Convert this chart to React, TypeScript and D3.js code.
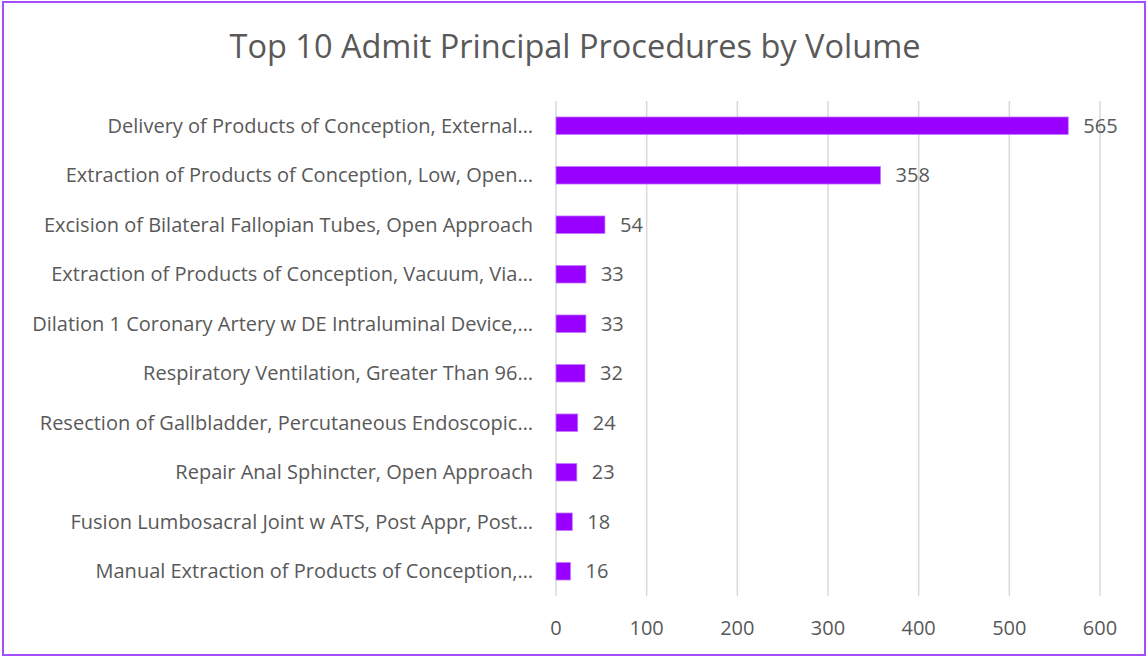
import * as d3 from "d3";

const TITLE = "Top 10 Admit Principal Procedures by Volume";

const procedures: string[] = [
  "Delivery of Products of Conception, External…",
  "Extraction of Products of Conception, Low, Open…",
  "Excision of Bilateral Fallopian Tubes, Open Approach",
  "Extraction of Products of Conception, Vacuum, Via…",
  "Dilation 1 Coronary Artery w DE Intraluminal Device,…",
  "Respiratory Ventilation, Greater Than 96…",
  "Resection of Gallbladder, Percutaneous Endoscopic…",
  "Repair Anal Sphincter, Open Approach",
  "Fusion Lumbosacral Joint w ATS, Post Appr, Post…",
  "Manual Extraction of Products of Conception,…",
];

const volumes: number[] = [565, 358, 54, 33, 33, 32, 24, 23, 18, 16];

const xTicks: number[] = [0, 100, 200, 300, 400, 500, 600];

const WIDTH = 1147;
const HEIGHT = 657;
const PLOT = { left: 556, right: 1100, top: 101, bottom: 596 };
const TEXT = "#595959";
const GRID = "#d9d9d9";
const BAR = "#9900ff";
const FONT = "'Open Sans', Lato, sans-serif";

export default function App() {
  const x = d3.scaleLinear().domain([0, 600]).range([PLOT.left, PLOT.right]);
  const y = d3
    .scaleBand<string>()
    .domain(procedures)
    .range([PLOT.top, PLOT.bottom])
    .paddingInner(0.645)
    .paddingOuter(0.3225);

  return (
    <svg
      width={WIDTH}
      height={HEIGHT}
      style={{ position: "absolute", left: 0, top: 0, fontFamily: FONT }}
    >
      <rect x={0} y={0} width={WIDTH} height={HEIGHT} fill="white" />
      <rect
        x={3}
        y={2}
        width={1142}
        height={653}
        fill="white"
        stroke="#a64dff"
        strokeWidth={2}
      />
      <text x={575} y={58} textAnchor="middle" fill={TEXT} fontSize={32.5}>
        {TITLE}
      </text>

      {xTicks.map((t) => (
        <g key={t}>
          <line
            x1={x(t)}
            x2={x(t)}
            y1={PLOT.top}
            y2={PLOT.bottom}
            stroke={GRID}
            strokeWidth={1.5}
          />
          <text x={x(t)} y={635} textAnchor="middle" fill={TEXT} fontSize={20}>
            {t}
          </text>
        </g>
      ))}

      {procedures.map((p, i) => {
        const by = y(p) ?? 0;
        const cy = by + y.bandwidth() / 2;
        return (
          <g key={p}>
            <text
              x={533}
              y={cy}
              dy="0.36em"
              textAnchor="end"
              fill={TEXT}
              fontSize={20}
            >
              {p}
            </text>
            <rect
              x={x(0)}
              y={by}
              width={x(volumes[i]) - x(0)}
              height={y.bandwidth()}
              fill={BAR}
              stroke="#c080ff"
              strokeWidth={0.75}
            />
            <text
              x={x(volumes[i]) + 15}
              y={cy}
              dy="0.36em"
              fill={TEXT}
              fontSize={20}
            >
              {volumes[i]}
            </text>
          </g>
        );
      })}
    </svg>
  );
}
